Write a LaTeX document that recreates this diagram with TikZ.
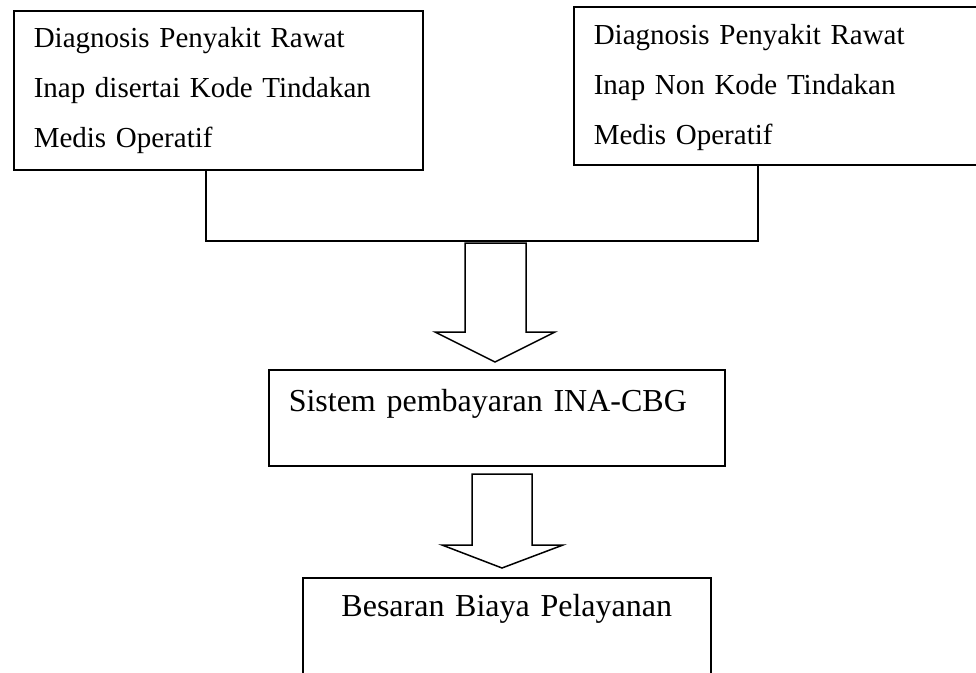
\documentclass[tikz,border=0pt]{standalone}
\usepackage{fontspec}
\setmainfont{Liberation Serif}

\begin{document}
\begin{tikzpicture}[x=1pt,y=-1pt,line width=1.5pt,
		kotak/.style={draw,rectangle,anchor=north west,inner xsep=20pt,inner ysep=0pt},
		kecil/.style={font=\fontsize{29}{50}\selectfont,align=left},
		besar/.style={font=\fontsize{32}{38}\selectfont}]%[scale=1]
		\useasboundingbox (0,0) rectangle (976,672);

		\node[kotak,kecil,text width=369pt,text height=37pt,text depth=122pt] (diagop) at (13,10) {Diagnosis Penyakit Rawat\\Inap disertai Kode Tindakan\\Medis Operatif};
		\node[kotak,kecil,text width=365pt,text height=38pt,text depth=120pt] (diagnon) at (573,6) {Diagnosis Penyakit Rawat\\Inap Non Kode Tindakan\\Medis Operatif};

		\coordinate (kiri) at (206,241);
		\coordinate (kanan) at (758,241);
		\draw (diagop.south -| kiri) |- (kanan) -- (diagnon.south -| kanan);

		\draw (465,243) -- (465,332) -- (435,332) -- (495,362) -- (555,332) -- (526,332) -- (526,243) -- cycle;

		\node[kotak,besar,align=left,text width=416pt,text height=42pt,text depth=54pt] (sistem) at (268,369) {Sistem pembayaran INA-CBG};

		\draw (472,474) -- (472,545) -- (442,545) -- (502,568) -- (563,545) -- (532,545) -- (532,474) -- cycle;

		\node[kotak,besar,align=center,text width=368pt,text height=39pt,text depth=58pt] (biaya) at (302,577) {Besaran Biaya Pelayanan};

		\end{tikzpicture}
\end{document}
